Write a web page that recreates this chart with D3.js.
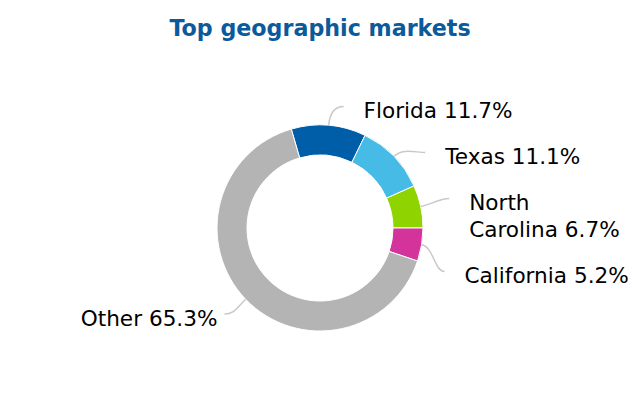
<!DOCTYPE html>
<html>
<head>
<meta charset="utf-8">
<script src="https://cdn.jsdelivr.net/npm/d3@7"></script>
<style>
  html, body { margin: 0; padding: 0; background: #fff; }
  svg { display: block; font-family: "DejaVu Sans", sans-serif; }
</style>
</head>
<body>
<svg id="chart" width="640" height="400"></svg>
<script>
const title = 'Top geographic markets';
const categories = ['Florida', 'Texas', 'North Carolina', 'California', 'Other'];
const shares = [11.7, 11.1, 6.7, 5.2, 65.3];
const colors = ['#005da8', '#45bbe6', '#8fd400', '#d4339b', '#b4b4b4'];

const width = 640;
const height = 400;
const cx = 320;
const cy = 228;
const outerR = 103;
const innerR = 73;
const fontSize = 21.6;
const lineH = 27;
const boxPad = 19;

const svg = d3.select('#chart');

svg.append('text')
  .attr('x', width / 2)
  .attr('y', 36)
  .attr('text-anchor', 'middle')
  .attr('font-size', 22.2)
  .attr('font-weight', 'bold')
  .attr('fill', '#0a5a9c')
  .text(title);

// slices start so the first group of markets sits top-right
const startAngle = -16.2 * Math.PI / 180;
const pie = d3.pie()
  .sort(null)
  .value((d) => d)
  .startAngle(startAngle)
  .endAngle(startAngle + 2 * Math.PI);

const arcs = pie(shares);
const arc = d3.arc().innerRadius(innerR).outerRadius(outerR);

const g = svg.append('g').attr('transform', `translate(${cx},${cy})`);

g.selectAll('path.slice')
  .data(arcs)
  .enter()
  .append('path')
  .attr('class', 'slice')
  .attr('d', arc)
  .attr('fill', (d, i) => colors[i])
  .attr('stroke', '#fff')
  .attr('stroke-width', 1);

// measure helper for wrapping labels
const measurer = svg.append('text').attr('font-size', fontSize).attr('visibility', 'hidden');
function textWidth(s) {
  measurer.text(s);
  return measurer.node().getComputedTextLength();
}

const labelR = outerR + 17;
const ellA = 133;
const ellB = 123.5;

const labels = arcs.map((d, i) => {
  const mid = (d.startAngle + d.endAngle) / 2;
  const side = Math.sin(mid) >= 0 ? 1 : -1;
  return {
    i,
    mid,
    side,
    text: `${categories[i]} ${shares[i].toFixed(1)}%`,
    target: cy - labelR * Math.cos(mid),
  };
});

// wrap labels that would run out of the frame
labels.forEach((l) => {
  const room = l.side > 0 ? width - (cx + ellA + 20) : cx - ellA - 5;
  if (textWidth(l.text) > room) {
    const words = l.text.split(' ');
    l.lines = [words[0], words.slice(1).join(' ')];
  } else {
    l.lines = [l.text];
  }
  l.size = l.lines.length * lineH + boxPad;
});
measurer.remove();

// spread labels: overlapping ones are merged into a block centred on its targets
function distribute(group) {
  let boxes = group.map((l) => ({
    items: [l],
    size: l.size,
    targets: [l.target - boxPad / 2 - lineH / 2 + l.size / 2],
  }));
  let merged = true;
  while (merged) {
    merged = false;
    boxes.forEach((b) => {
      const c = (d3.min(b.targets) + d3.max(b.targets)) / 2;
      b.pos = c - b.size / 2;
    });
    for (let i = 1; i < boxes.length; i += 1) {
      const a = boxes[i - 1];
      const b = boxes[i];
      if (b.pos < a.pos + a.size - 2) {
        boxes.splice(i - 1, 2, {
          items: a.items.concat(b.items),
          size: a.size + b.size,
          targets: a.targets.concat(b.targets),
        });
        merged = true;
        break;
      }
    }
  }
  let prevEnd = -Infinity;
  boxes.forEach((b) => {
    b.pos = Math.max(b.pos, prevEnd);
    let y = b.pos;
    b.items.forEach((l) => {
      l.y = y + boxPad / 2 + lineH / 2 + 3;
      y += l.size;
    });
    prevEnd = b.pos + b.size;
  });
}

[1, -1].forEach((side) => {
  distribute(labels.filter((l) => l.side === side).sort((a, b) => a.target - b.target));
});

labels.forEach((l) => {
  const dy = l.y - cy;
  const k = Math.max(0, 1 - (dy / ellB) * (dy / ellB));
  l.endX = cx + l.side * ellA * Math.sqrt(k);
});

const connector = svg.append('g');
labels.forEach((l) => {
  const sx = Math.sin(l.mid);
  const sy = -Math.cos(l.mid);
  const p0 = [cx + outerR * sx, cy + outerR * sy];
  const c1 = [cx + (outerR + 12) * sx, cy + (outerR + 12) * sy];
  const c2 = [l.endX - l.side * 10, l.y];
  const path = d3.path();
  path.moveTo(p0[0], p0[1]);
  path.bezierCurveTo(c1[0], c1[1], c2[0], c2[1], l.endX, l.y);
  connector.append('path')
    .attr('d', path.toString())
    .attr('fill', 'none')
    .attr('stroke', '#c8c8c8')
    .attr('stroke-width', 1.5);
});

const labelG = svg.append('g');
labels.forEach((l) => {
  const t = labelG.append('text')
    .attr('font-size', fontSize)
    .attr('fill', '#000')
    .attr('text-anchor', l.side > 0 ? 'start' : 'end');
  const x = l.side > 0 ? l.endX + 20 : l.endX - 7;
  l.lines.forEach((line, j) => {
    t.append('tspan')
      .attr('x', x)
      .attr('y', l.y + 12 + j * lineH)
      .text(line);
  });
});
</script>
</body>
</html>
